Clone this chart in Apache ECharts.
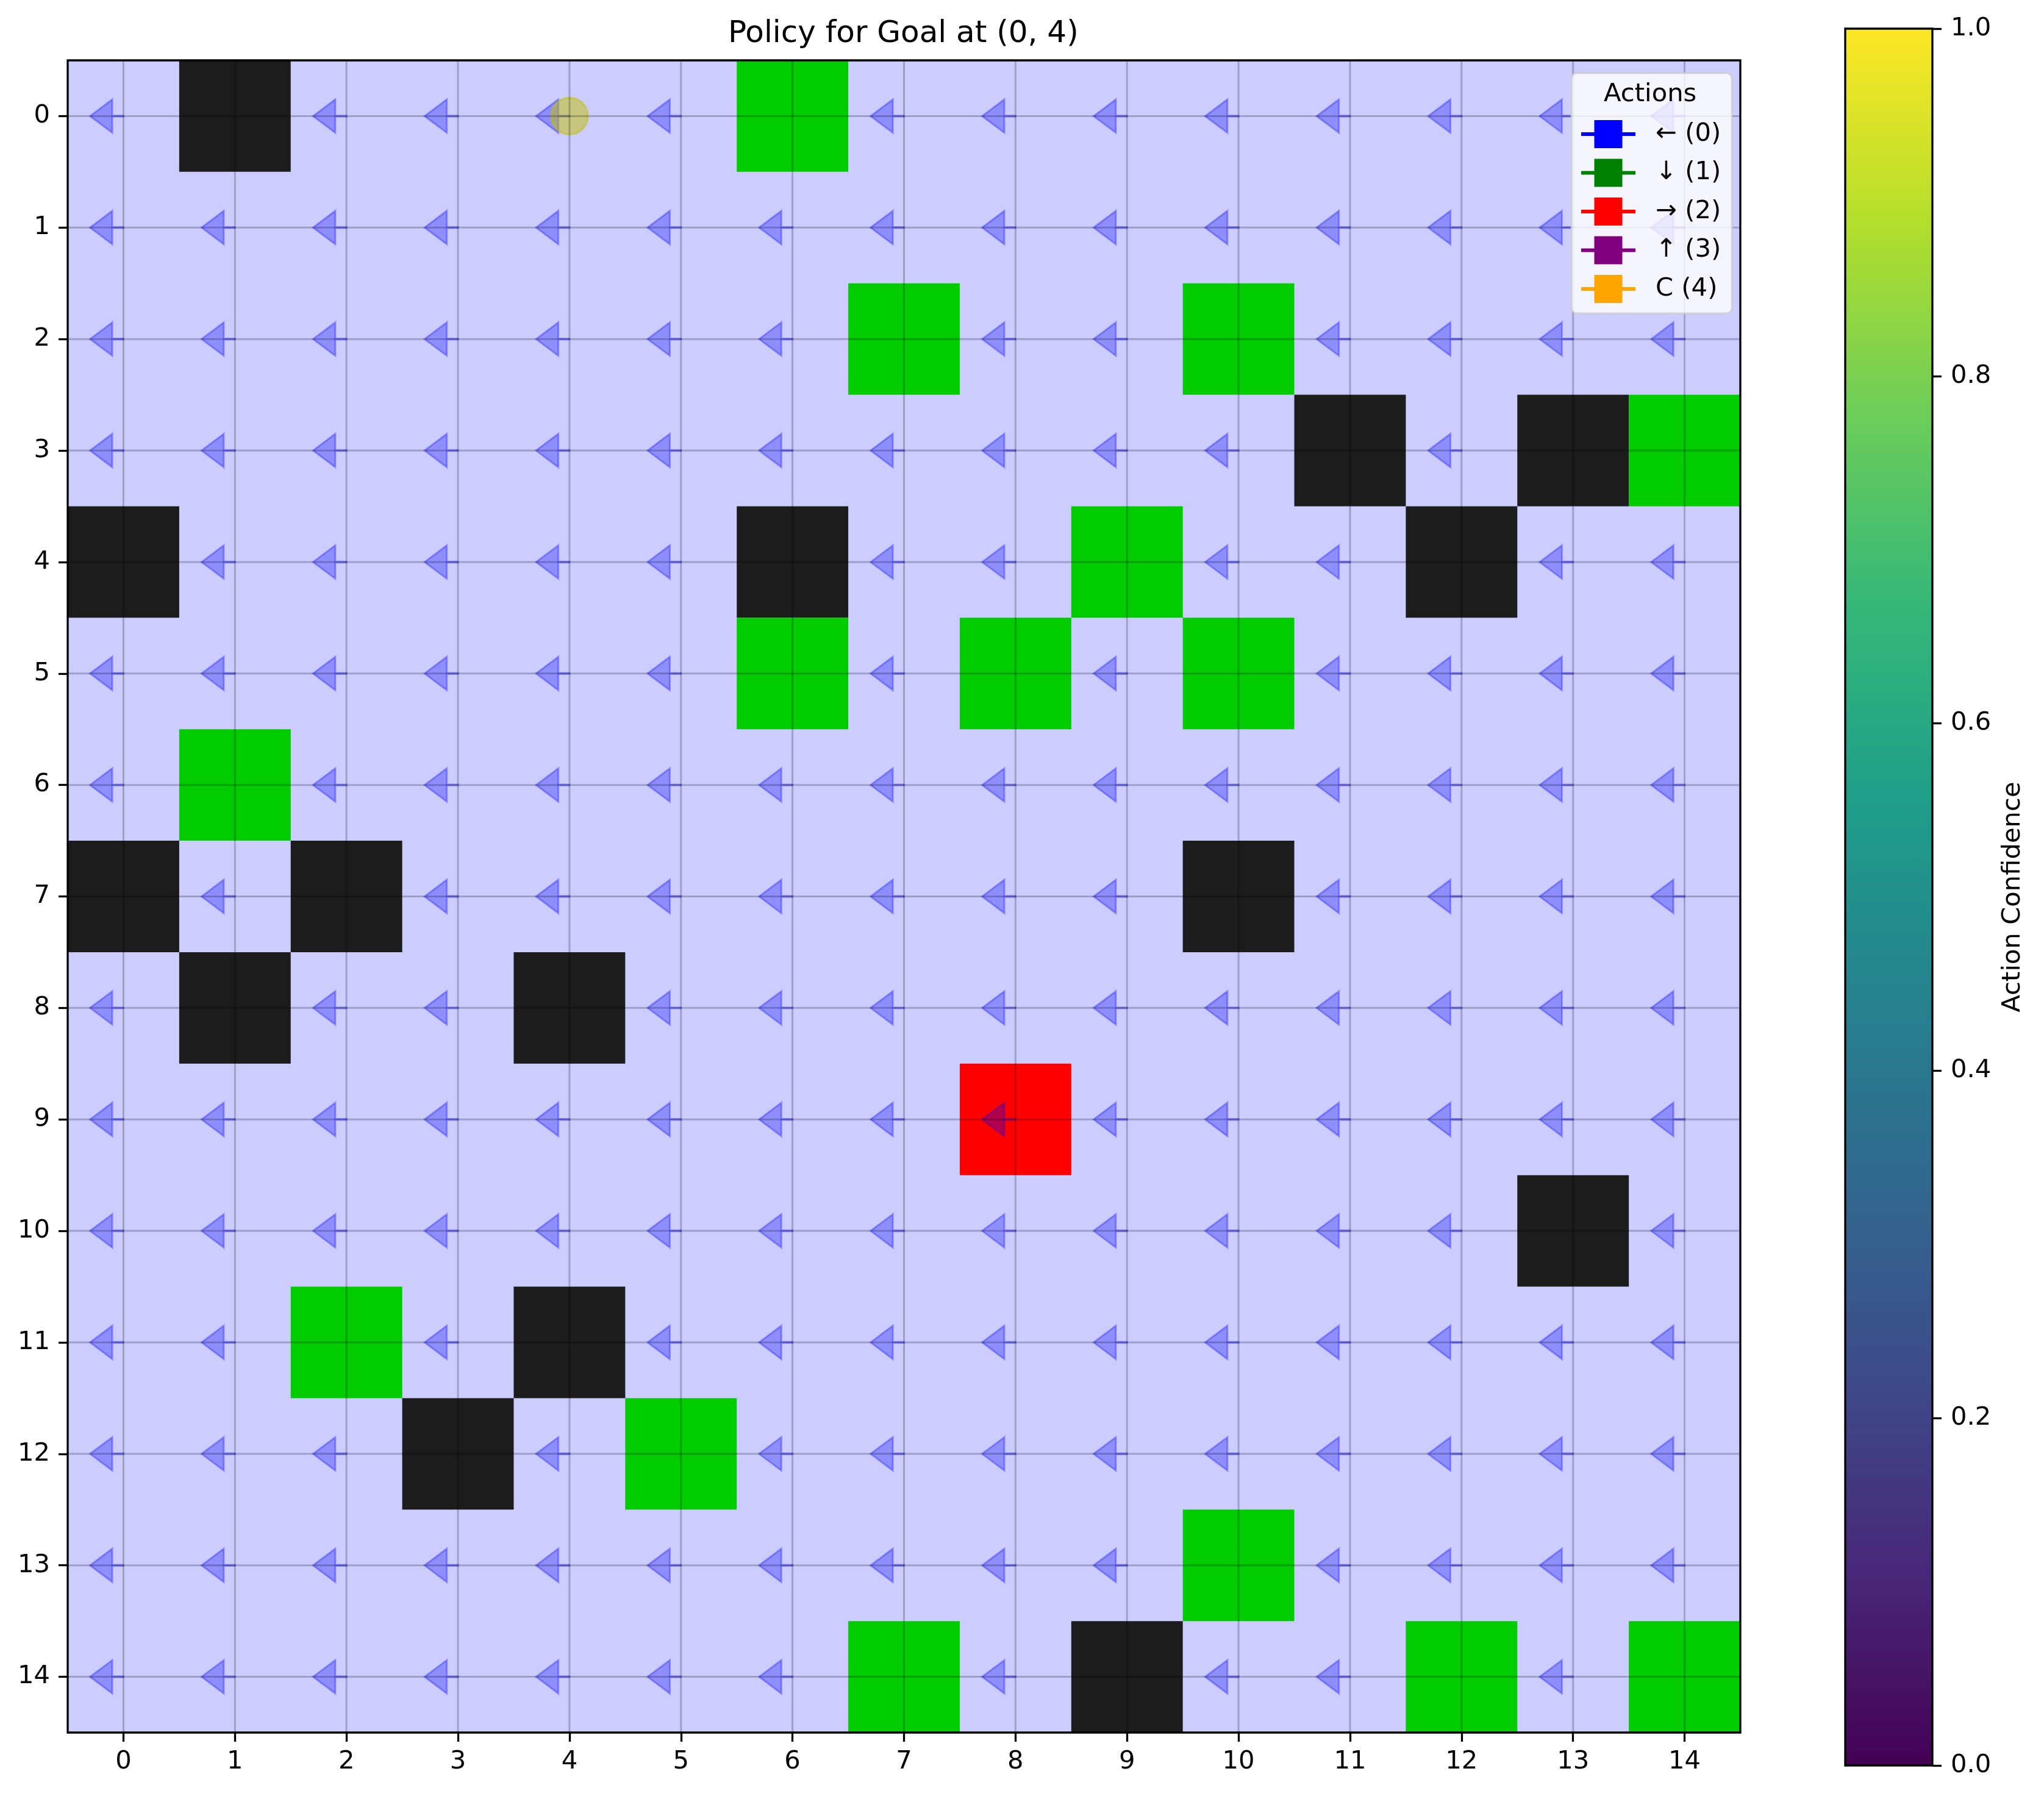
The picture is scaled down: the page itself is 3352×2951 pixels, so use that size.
<!DOCTYPE html>
<html><head><meta charset="utf-8">
<script src="https://cdn.jsdelivr.net/npm/echarts@6/dist/echarts.min.js"></script>
<style>html,body{margin:0;padding:0;background:#fff}#c{width:3352px;height:2951px}</style>
</head><body><div id="c"></div>
<script>
// ---------------- data ----------------
const chartTitle = 'Policy for Goal at (0, 4)';
const tickValues = [0,1,2,3,4,5,6,7,8,9,10,11,12,13,14];
const goalCell = [0, 4];                 // [row, col]
const obstacleCells = [[0,1],[3,11],[3,13],[4,0],[4,6],[4,12],[7,0],[7,2],[7,10],[8,1],[8,4],[10,13],[11,4],[12,3],[14,9]];
const greenCells = [[0,6],[2,7],[2,10],[3,14],[4,9],[5,6],[5,8],[5,10],[6,1],[11,2],[12,5],[13,10],[14,7],[14,12],[14,14]];
const redCells = [[9,8]];
// chosen action per cell (null = no arrow drawn)
const _ = null;
const policy = [
  [0,_,0,0,0,0,_,0,0,0,0,0,0,0,0],
  [0,0,0,0,0,0,0,0,0,0,0,0,0,0,0],
  [0,0,0,0,0,0,0,_,0,0,_,0,0,0,0],
  [0,0,0,0,0,0,0,0,0,0,0,_,0,_,_],
  [_,0,0,0,0,0,_,0,0,_,0,0,_,0,0],
  [0,0,0,0,0,0,_,0,_,0,_,0,0,0,0],
  [0,_,0,0,0,0,0,0,0,0,0,0,0,0,0],
  [_,0,_,0,0,0,0,0,0,0,_,0,0,0,0],
  [0,_,0,0,_,0,0,0,0,0,0,0,0,0,0],
  [0,0,0,0,0,0,0,0,0,0,0,0,0,0,0],
  [0,0,0,0,0,0,0,0,0,0,0,0,0,_,0],
  [0,0,_,0,_,0,0,0,0,0,0,0,0,0,0],
  [0,0,0,_,0,_,0,0,0,0,0,0,0,0,0],
  [0,0,0,0,0,0,0,0,0,0,_,0,0,0,0],
  [0,0,0,0,0,0,0,_,0,_,0,0,_,0,_]
];
const actionNames = ['\u2190 (0)', '\u2193 (1)', '\u2192 (2)', '\u2191 (3)', 'C (4)'];
const actionColors = ['#0000ff', '#008000', '#ff0000', '#800080', '#ffa500'];
const cbarTicks = [0, 0.2, 0.4, 0.6, 0.8, 1.0];
const cbarRange = [0, 1];
const viridis = ['#440154','#482878','#3e4a89','#31688e','#26828e','#1f9e89','#35b779','#6dcd59','#b4de2c','#fde725'];
const cbarLabel = 'Action Confidence';
const legendTitle = 'Actions';

// ---------------- build ----------------
const FONT = 'DejaVu Sans';
const FS = 41.7;
const cellFill = ['#1c1c1c', '#00cc00', '#ff0000'];

const cellData = [];
obstacleCells.forEach(([r,c]) => cellData.push([c, r, 0]));
greenCells.forEach(([r,c]) => cellData.push([c, r, 1]));
redCells.forEach(([r,c]) => cellData.push([c, r, 2]));

const arrowData = [];
policy.forEach((row, r) => row.forEach((a, c) => { if (a !== null) arrowData.push([c, r, a]); }));

const dirs = [[-1,0],[0,1],[1,0],[0,-1]];

function rectFrom(api, x0, y0, x1, y1) {
  const p0 = api.coord([x0, y0]), p1 = api.coord([x1, y1]);
  return { x: Math.min(p0[0], p1[0]), y: Math.min(p0[1], p1[1]),
           width: Math.abs(p1[0] - p0[0]), height: Math.abs(p1[1] - p0[1]) };
}

function renderCell(params, api) {
  const x = api.value(0), y = api.value(1);
  return { type: 'rect', shape: rectFrom(api, x - 0.5, y - 0.5, x + 0.5, y + 0.5),
           style: { fill: cellFill[api.value(2)] } };
}

function renderArrow(params, api) {
  const x = api.value(0), y = api.value(1), a = api.value(2);
  if (a === 4) {
    const c = api.coord([x, y]);
    const rr = api.size([0.15, 0])[0];
    return { type: 'circle', shape: { cx: c[0], cy: c[1], r: rr },
             style: { fill: 'rgba(255,165,0,0.3)', stroke: 'rgba(255,165,0,0.3)', lineWidth: 3 } };
  }
  const dx = dirs[a][0], dy = dirs[a][1];
  const px = -dy, py = dx;
  const L = 0.3, HL = 0.2, HW = 0.15, W = 0.004;
  const bx = x + dx * (L - HL), by = y + dy * (L - HL);
  const pts = [
    [x + px * W, y + py * W],
    [bx + px * W, by + py * W],
    [bx + px * HW, by + py * HW],
    [x + dx * L, y + dy * L],
    [bx - px * HW, by - py * HW],
    [bx - px * W, by - py * W],
    [x - px * W, y - py * W]
  ].map(p => api.coord(p));
  return { type: 'polygon', shape: { points: pts },
           style: { fill: 'rgba(0,0,255,0.3)', stroke: 'rgba(0,0,255,0.3)', lineWidth: 3, lineJoin: 'miter' } };
}

function renderGoal(params, api) {
  const c = api.coord([api.value(0), api.value(1)]);
  const rr = api.size([0.165, 0])[0];
  return { type: 'circle', shape: { cx: c[0], cy: c[1], r: rr },
           style: { fill: 'rgba(191,191,0,0.5)', stroke: 'rgba(191,191,0,0.5)', lineWidth: 3 } };
}

const lo = tickValues[0] - 0.5, hi = tickValues[tickValues.length - 1] + 0.5;

function renderGridLine(params, api) {
  const v = api.value(0);
  const vr = rectFrom(api, v, lo, v, hi);
  const hr = rectFrom(api, lo, v, hi, v);
  return { type: 'group', children: [
    { type: 'rect', shape: { x: vr.x - 1.5, y: vr.y, width: 3, height: vr.height }, style: { fill: 'rgba(0,0,0,0.22)' } },
    { type: 'rect', shape: { x: hr.x, y: hr.y - 1.5, width: hr.width, height: 3 }, style: { fill: 'rgba(0,0,0,0.22)' } }
  ]};
}

function renderFrame(params, api) {
  return { type: 'rect', shape: rectFrom(api, lo, lo, hi, hi),
    style: { fill: 'none', stroke: '#000', lineWidth: 3.3 } };
}

function renderCbar(params, api) {
  const stops = viridis.map((col, i) => ({ offset: i / (viridis.length - 1), color: col }));
  return { type: 'rect', shape: rectFrom(api, 0, cbarRange[0], 1, cbarRange[1]),
    style: { fill: new echarts.graphic.LinearGradient(0, 1, 0, 0, stops), stroke: '#000', lineWidth: 3.3 } };
}

const legendSeries = actionNames.map((n, i) => ({
  type: 'line', name: n, data: [], xAxisIndex: 0, yAxisIndex: 0,
  symbol: 'rect', symbolSize: 46,
  itemStyle: { color: actionColors[i] },
  lineStyle: { color: actionColors[i], width: 6 }
}));

const axisCommon = {
  type: 'value', min: lo, max: hi,
  axisLine: { show: false, onZero: false },
  splitLine: { show: false },
  axisTick: { show: true, inside: false, length: 15, customValues: tickValues, lineStyle: { color: '#000', width: 3.3 } },
  axisLabel: { customValues: tickValues, color: '#000', fontSize: FS, fontFamily: FONT }
};

const chart = echarts.init(document.getElementById('c'), null, { renderer: 'canvas', width: 3352, height: 2951 });
chart.setOption({
  animation: false,
  backgroundColor: '#ffffff',
  textStyle: { fontFamily: FONT },
  title: [
    { text: chartTitle, left: 1194, top: 31.5, padding: 0,
      textStyle: { fontSize: 50, fontWeight: 'normal', color: '#000', fontFamily: FONT } },
    { text: legendTitle, left: 2630, top: 134.5, padding: 0, z: 30,
      textStyle: { fontSize: FS, fontWeight: 'normal', color: '#000', fontFamily: FONT } }
  ],
  legend: {
    orient: 'vertical', left: 2577, top: 120,
    padding: [77, 18, 17, 13],
    itemWidth: 89, itemHeight: 57.5, itemGap: 17.5,
    backgroundColor: 'rgba(255,255,255,0.8)',
    borderColor: 'rgba(204,204,204,0.8)', borderWidth: 3, borderRadius: 9,
    selectedMode: false, z: 25,
    lineStyle: { width: 6 },
    textStyle: { fontSize: FS, color: '#000', fontFamily: FONT, padding: [0, 0, 0, 28] },
    data: actionNames
  },
  grid: [
    { left: 111, top: 99, width: 2743, height: 2743, show: true, backgroundColor: '#ccccff', borderWidth: 0 },
    { left: 3026, top: 47, width: 143, height: 2849, show: false }
  ],
  xAxis: [
    Object.assign({}, axisCommon, { gridIndex: 0, position: 'bottom',
      axisLabel: Object.assign({}, axisCommon.axisLabel, { margin: 27 }) }),
    { type: 'value', gridIndex: 1, min: 0, max: 1, show: false }
  ],
  yAxis: [
    Object.assign({}, axisCommon, { gridIndex: 0, position: 'left', inverse: true,
      axisLabel: Object.assign({}, axisCommon.axisLabel, { margin: 29 }) }),
    { type: 'value', gridIndex: 1, min: cbarRange[0], max: cbarRange[1], interval: cbarTicks[1] - cbarTicks[0], position: 'right',
      axisLine: { show: false, onZero: false }, splitLine: { show: false },
      axisTick: { show: true, length: 15, lineStyle: { color: '#000', width: 3.3 } },
      axisLabel: { margin: 30, color: '#000', fontSize: FS, fontFamily: FONT, formatter: v => v.toFixed(1) },
      name: cbarLabel, nameLocation: 'middle', nameRotate: 90, nameGap: 111,
      nameTextStyle: { fontSize: FS, color: '#000', fontFamily: FONT } }
  ],
  series: [
    { type: 'custom', name: 'cells', xAxisIndex: 0, yAxisIndex: 0, z: 2, silent: true,
      renderItem: renderCell, data: cellData, encode: { x: 0, y: 1 } },
    { type: 'custom', name: 'arrows', xAxisIndex: 0, yAxisIndex: 0, z: 3, silent: true,
      renderItem: renderArrow, data: arrowData, encode: { x: 0, y: 1 } },
    { type: 'custom', name: 'goal', xAxisIndex: 0, yAxisIndex: 0, z: 4, silent: true,
      renderItem: renderGoal, data: [[goalCell[1], goalCell[0]]], encode: { x: 0, y: 1 } },
    { type: 'custom', name: 'grid', xAxisIndex: 0, yAxisIndex: 0, z: 5, silent: true,
      renderItem: renderGridLine, data: tickValues.map(v => [v, v]), encode: { x: 0, y: 1 } },
    { type: 'custom', name: 'frame', xAxisIndex: 0, yAxisIndex: 0, z: 6, silent: true,
      renderItem: renderFrame, data: [[lo, lo]], encode: { x: 0, y: 1 } },
    { type: 'custom', name: 'colorbar', xAxisIndex: 1, yAxisIndex: 1, z: 2, silent: true,
      renderItem: renderCbar, data: [[0, cbarRange[0]]], encode: { x: 0, y: 1 } }
  ].concat(legendSeries)
});
</script></body></html>
